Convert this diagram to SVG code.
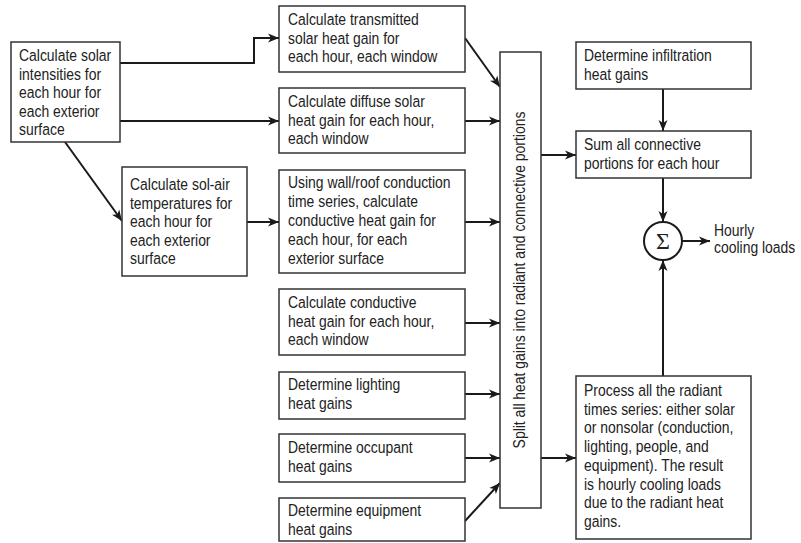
<svg xmlns="http://www.w3.org/2000/svg" width="801" height="543" viewBox="0 0 801 543">
<defs>
<style>
.box{fill:#fff;stroke:#333;stroke-width:1.5}
.t{font-family:"Liberation Sans",Arial,sans-serif;font-size:17px;fill:#222}
.c{fill:none;stroke:#1a1a1a;stroke-width:2}
</style>
<marker id="ah" markerUnits="userSpaceOnUse" markerWidth="12" markerHeight="10" refX="11" refY="4.5" orient="auto" viewBox="0 0 12 9">
<path d="M0,0 L11,4.5 L0,9 L3,4.5 z" fill="#1a1a1a"/>
</marker>
</defs>
<rect width="801" height="543" fill="#fff"/>
<g id="connectors" class="c" marker-end="url(#ah)">
<polyline points="120,63 254,63 254,38 279,38"/>
<line x1="120" y1="121" x2="279" y2="121"/>
<line x1="65" y1="142" x2="122" y2="221"/>
<line x1="465" y1="38" x2="500" y2="87"/>
<line x1="465" y1="121" x2="500" y2="121"/>
<line x1="247" y1="222" x2="279" y2="222"/>
<line x1="465" y1="222" x2="500" y2="222"/>
<line x1="465" y1="323" x2="500" y2="323"/>
<line x1="465" y1="394" x2="500" y2="394"/>
<line x1="465" y1="458" x2="500" y2="458"/>
<line x1="465" y1="521" x2="500" y2="483"/>
<line x1="541" y1="155" x2="576" y2="155"/>
<line x1="541" y1="458" x2="576" y2="458"/>
<line x1="663" y1="89" x2="663" y2="131"/>
<line x1="663" y1="178" x2="663" y2="222"/>
<line x1="663" y1="376" x2="663" y2="260"/>
<line x1="682" y1="241" x2="710" y2="241"/>
</g>
<g id="solar-intensities"><rect class="box" x="11" y="42" width="109" height="100"/>
<text class="t" transform="translate(19,61) scale(0.82,1)">Calculate solar</text><text class="t" transform="translate(19,79.5) scale(0.82,1)">intensities for</text><text class="t" transform="translate(19,98) scale(0.82,1)">each hour for</text><text class="t" transform="translate(19,116.5) scale(0.82,1)">each exterior</text><text class="t" transform="translate(19,135) scale(0.82,1)">surface</text></g>
<g id="transmitted"><rect class="box" x="279" y="6" width="186" height="66"/>
<text class="t" transform="translate(288,25) scale(0.82,1)">Calculate transmitted</text><text class="t" transform="translate(288,43.5) scale(0.82,1)">solar heat gain for</text><text class="t" transform="translate(288,62) scale(0.82,1)">each hour, each window</text></g>
<g id="diffuse"><rect class="box" x="279" y="88" width="186" height="65"/>
<text class="t" transform="translate(288,107) scale(0.82,1)">Calculate diffuse solar</text><text class="t" transform="translate(288,125.5) scale(0.82,1)">heat gain for each hour,</text><text class="t" transform="translate(288,144) scale(0.82,1)">each window</text></g>
<g id="sol-air"><rect class="box" x="122" y="167" width="125" height="109"/>
<text class="t" transform="translate(130,190) scale(0.82,1)">Calculate sol-air</text><text class="t" transform="translate(130,208.5) scale(0.82,1)">temperatures for</text><text class="t" transform="translate(130,227) scale(0.82,1)">each hour for</text><text class="t" transform="translate(130,245.5) scale(0.82,1)">each exterior</text><text class="t" transform="translate(130,264) scale(0.82,1)">surface</text></g>
<g id="wall-roof"><rect class="box" x="279" y="170" width="186" height="103"/>
<text class="t" transform="translate(288,188) scale(0.82,1)">Using wall/roof conduction</text><text class="t" transform="translate(288,207) scale(0.82,1)">time series, calculate</text><text class="t" transform="translate(288,226) scale(0.82,1)">conductive heat gain for</text><text class="t" transform="translate(288,245) scale(0.82,1)">each hour, for each</text><text class="t" transform="translate(288,264) scale(0.82,1)">exterior surface</text></g>
<g id="conductive-window"><rect class="box" x="279" y="289" width="186" height="66"/>
<text class="t" transform="translate(288,308) scale(0.82,1)">Calculate conductive</text><text class="t" transform="translate(288,326.5) scale(0.82,1)">heat gain for each hour,</text><text class="t" transform="translate(288,345) scale(0.82,1)">each window</text></g>
<g id="lighting"><rect class="box" x="279" y="372" width="186" height="47"/>
<text class="t" transform="translate(288,390) scale(0.82,1)">Determine lighting</text><text class="t" transform="translate(288,408.5) scale(0.82,1)">heat gains</text></g>
<g id="occupant"><rect class="box" x="279" y="434" width="186" height="48"/>
<text class="t" transform="translate(288,453) scale(0.82,1)">Determine occupant</text><text class="t" transform="translate(288,471.5) scale(0.82,1)">heat gains</text></g>
<g id="equipment"><rect class="box" x="279" y="498" width="186" height="43"/>
<text class="t" transform="translate(288,516) scale(0.82,1)">Determine equipment</text><text class="t" transform="translate(288,534.5) scale(0.82,1)">heat gains</text></g>
<g id="split"><rect class="box" x="500" y="52" width="41" height="456"/>
<text class="t" text-anchor="middle" transform="translate(525,280) rotate(-90) scale(0.82,1)">Split all heat gains into radiant and connective portions</text></g>
<g id="infiltration"><rect class="box" x="576" y="42" width="175" height="47"/>
<text class="t" transform="translate(584,61) scale(0.82,1)">Determine infiltration</text><text class="t" transform="translate(584,79.5) scale(0.82,1)">heat gains</text></g>
<g id="sum-connective"><rect class="box" x="576" y="131" width="175" height="47"/>
<text class="t" transform="translate(584,150) scale(0.82,1)">Sum all connective</text><text class="t" transform="translate(584,168.5) scale(0.82,1)">portions for each hour</text></g>
<g id="radiant"><rect class="box" x="576" y="376" width="175" height="163"/>
<text class="t" transform="translate(584,396) scale(0.82,1)">Process all the radiant</text><text class="t" transform="translate(584,414.7) scale(0.82,1)">times series: either solar</text><text class="t" transform="translate(584,433.4) scale(0.82,1)">or nonsolar (conduction,</text><text class="t" transform="translate(584,452.1) scale(0.82,1)">lighting, people, and</text><text class="t" transform="translate(584,470.8) scale(0.82,1)">equipment). The result</text><text class="t" transform="translate(584,489.5) scale(0.82,1)">is hourly cooling loads</text><text class="t" transform="translate(584,508.2) scale(0.82,1)">due to the radiant heat</text><text class="t" transform="translate(584,526.9) scale(0.82,1)">gains.</text></g>
<g id="sum"><circle cx="663" cy="241" r="19" fill="#fff" stroke="#1a1a1a" stroke-width="2"/>
<text x="663" y="249" text-anchor="middle" font-family="'Liberation Serif',serif" font-size="24" fill="#222">Σ</text></g>
<g id="output"><text class="t" transform="translate(714,236) scale(0.82,1)">Hourly</text><text class="t" transform="translate(714,253) scale(0.82,1)">cooling loads</text></g>
</svg>
